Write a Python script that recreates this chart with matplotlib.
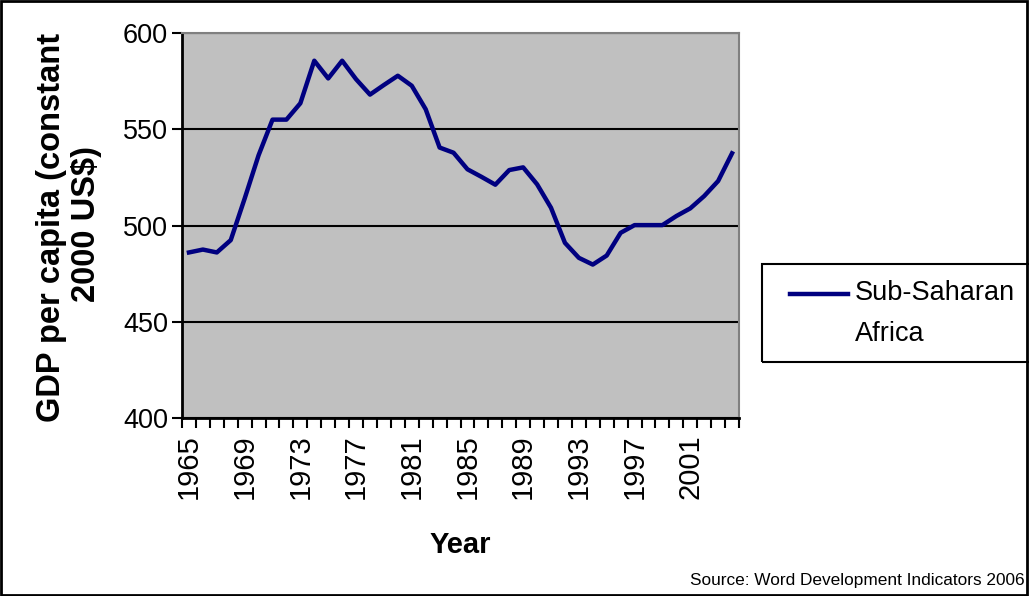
import matplotlib
matplotlib.use("Agg")
import matplotlib.pyplot as plt
from matplotlib.patches import Rectangle
from matplotlib.lines import Line2D
from matplotlib.ticker import FixedLocator, NullFormatter

plt.rcParams['font.family'] = ['Liberation Sans', 'DejaVu Sans']

# GDP per capita, Sub-Saharan Africa (constant 2000 US$)
years = list(range(1965, 2005))
gdp = [486, 487.5, 486, 492.4, 514, 536.5, 555, 555, 563.5, 585.6,
       576.4, 585.6, 576, 568, 573, 577.8, 572.6, 560.4, 540.5, 537.8,
       529.2, 525.3, 521.2, 528.8, 530.2, 521.4, 509.2, 491, 483.2, 479.7,
       484.4, 496.2, 500.2, 500.2, 500.2, 504.9, 508.9, 515.3, 523.1, 537.5]
label_years = years[::4]
series_name = ["Sub-Saharan", "Africa"]

fig = plt.figure(figsize=(10.29, 5.96), dpi=100)
ax = fig.add_axes([182 / 1029, 1 - 418 / 596, (739 - 182) / 1029, (418 - 33) / 596])
ax.set_facecolor('#C0C0C0')

x = list(range(len(years)))
ax.plot(x, gdp, color='#000080', lw=3.2)

ax.set_xlim(-0.5, len(years) - 0.5)
ax.set_ylim(400, 600)
ax.set_yticks([400, 450, 500, 550, 600])
ax.yaxis.grid(True, color='black', lw=1.5)
ax.set_axisbelow(True)

# category ticks at boundaries, labels every 4 years at centres
ax.xaxis.set_major_locator(FixedLocator([i for i, y in enumerate(years) if y in label_years]))
ax.set_xticklabels([str(y) for y in label_years], rotation=90, fontsize=21)
ax.tick_params(axis='x', which='major', length=0, pad=12)
ax.xaxis.set_minor_locator(FixedLocator([i - 0.5 for i in range(len(years) + 1)]))
ax.xaxis.set_minor_formatter(NullFormatter())
ax.tick_params(axis='x', which='minor', length=7, width=1.5, color='black', direction='out')
ax.tick_params(axis='y', labelsize=19.5, length=7, width=1.5, direction='out', pad=3)

for s in ['left', 'bottom']:
    ax.spines[s].set_color('black')
    ax.spines[s].set_linewidth(2)
for s in ['top', 'right']:
    ax.spines[s].set_color('#808080')
    ax.spines[s].set_linewidth(1.5)

fig.text(460 / 1029, 1 - 545 / 596, "Year", ha='center', va='center',
         fontsize=21, fontweight='bold')
fig.text(52 / 1029, 1 - 227 / 596, "GDP per capita (constant",
         rotation=90, ha='center', va='center', fontsize=23.5, fontweight='bold')
fig.text(87 / 1029, 1 - 224 / 596, "2000 US$)",
         rotation=90, ha='center', va='center', fontsize=23.5, fontweight='bold')

# legend box (extends past right edge as in original)
fig.patches.append(Rectangle((762 / 1029, 1 - 362 / 596), 0.3, 98 / 596,
                             transform=fig.transFigure, fill=False,
                             edgecolor='black', lw=1.5, zorder=5))
fig.lines.append(Line2D([790 / 1029, 848 / 1029], [1 - 294 / 596, 1 - 294 / 596],
                        transform=fig.transFigure, color='#000080', lw=3.2))
fig.text(855 / 1029, 1 - 293 / 596, series_name[0], ha='left', va='center', fontsize=19.5)
fig.text(855 / 1029, 1 - 334 / 596, series_name[1], ha='left', va='center', fontsize=19.5)

fig.text(1025 / 1029, 1 - 581 / 596, "Source: Word Development Indicators 2006",
         ha='right', va='center', fontsize=12.4)

fig.patches.append(Rectangle((0.001, 0.001), 0.997, 0.997, transform=fig.transFigure,
                             fill=False, edgecolor='black', lw=2, zorder=10))

fig.savefig("out.png", dpi=100)
